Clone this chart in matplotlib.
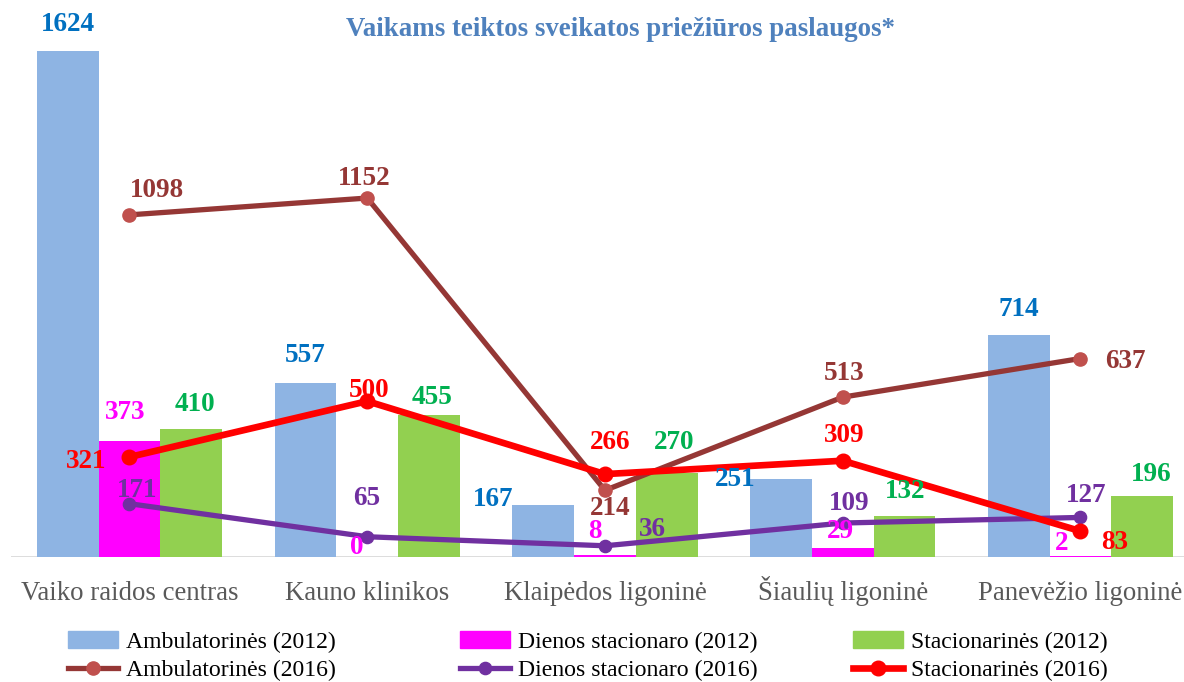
import matplotlib
matplotlib.use("Agg")
import matplotlib.pyplot as plt
from matplotlib.lines import Line2D
from matplotlib.patches import Patch
import numpy as np

# ---------------- data ----------------
categories = ["Vaiko raidos centras", "Kauno klinikos", "Klaipėdos ligoninė",
              "Šiaulių ligoninė", "Panevėžio ligoninė"]
amb_2012 = [1624, 557, 167, 251, 714]
dien_2012 = [373, 0, 8, 29, 2]
stac_2012 = [410, 455, 270, 132, 196]
amb_2016 = [1098, 1152, 214, 513, 637]
dien_2016 = [171, 65, 36, 109, 127]
stac_2016 = [321, 500, 266, 309, 83]
title = "Vaikams teiktos sveikatos priežiūros paslaugos*"
series_names = ["Ambulatorinės (2012)", "Dienos stacionaro (2012)", "Stacionarinės (2012)",
                "Ambulatorinės (2016)", "Dienos stacionaro (2016)", "Stacionarinės (2016)"]

# label offsets (pixels: right, up) -- layout only
off_amb12 = [(0, 26), (0, 28), (-50, 5), (-46, -1), (0, 25)]
off_dien12 = [(-4, 28), (-10, 10), (-10, 23), (-2, 16), (-19, 13)]
off_stac12 = [(4, 25), (3, 18), (7, 30), (1, 24), (9, 21)]
off_amb16 = [(27, 24), (-3, 20), (5, -18), (1, 24), (45, -3)]
off_dien16 = [(8, 13), (-1, 38), (47, 16), (6, 20), (6, 22)]
off_stac16 = [(-43, -5), (2, 11), (5, 32), (2, 25), (34, -11)]

plt.rcParams['font.family'] = ['Liberation Serif', 'DejaVu Serif']

W, H = 1184, 682
fig = plt.figure(figsize=(W / 100, H / 100), dpi=100)
ax_left = 10.6 / W
ax_w = 1188.75 / W
ax_bottom = (H - 557) / H
ax_h = 557 / H
ax = fig.add_axes([ax_left, ax_bottom, ax_w, ax_h])
ymax = 557 / 0.3116
ax.set_xlim(-0.5, 4.5)
ax.set_ylim(0, ymax)

x = np.arange(len(categories))
bw = 0.26
c_amb12, c_dien12, c_stac12 = "#8EB4E3", "#FF00FF", "#92D050"
c_amb16, c_amb16m, c_dien16, c_stac16 = "#953735", "#C0504D", "#7030A0", "#FF0000"

ax.bar(x - bw, amb_2012, bw, color=c_amb12, zorder=2)
ax.bar(x, dien_2012, bw, color=c_dien12, zorder=2)
ax.bar(x + bw, stac_2012, bw, color=c_stac12, zorder=2)

ax.plot(x, amb_2016, color=c_amb16, lw=3.8, marker='o', ms=9.5,
        mfc=c_amb16m, mec=c_amb16m, zorder=4)
ax.plot(x, dien_2016, color=c_dien16, lw=3.8, marker='o', ms=8.8,
        mfc=c_dien16, mec=c_dien16, zorder=4)
ax.plot(x, stac_2016, color=c_stac16, lw=4.8, marker='o', ms=10.5,
        mfc=c_stac16, mec=c_stac16, zorder=5)

ax.axhline(0, color="#D9D9D9", lw=2, zorder=1)

lab_fs = 19.5
def labels(xs, vals, offs, color):
    for xi, v, (dx, dy) in zip(xs, vals, offs):
        ax.annotate(str(v), xy=(xi, v), xytext=(dx, dy), textcoords='offset pixels',
                    ha='center', va='center', fontsize=lab_fs, fontweight='bold',
                    color=color, zorder=6, annotation_clip=False)

labels(x - bw, amb_2012, off_amb12, "#0070C0")
labels(x, dien_2012, off_dien12, "#FF00FF")
labels(x + bw, stac_2012, off_stac12, "#00B050")
labels(x, amb_2016, off_amb16, c_amb16)
labels(x, dien_2016, off_dien16, c_dien16)
labels(x, stac_2016, off_stac16, c_stac16)

for s in ax.spines.values():
    s.set_visible(False)
ax.set_yticks([])
ax.set_xticks(x)
ax.set_xticklabels(categories, fontsize=19.3, color="#595959", va='baseline')
ax.tick_params(axis='x', length=0, pad=31)

fig.text(621 / W, 1 - 30 / H, title, ha='center', va='center', fontsize=19.4,
         fontweight='bold', color="#4F81BD")

# legend: three columns, two rows each
leg_fs = 17.1
handles = [
    Patch(color=c_amb12), Patch(color=c_dien12), Patch(color=c_stac12),
    Line2D([], [], color=c_amb16, lw=3.8, marker='o', ms=9.5, mfc=c_amb16m, mec=c_amb16m),
    Line2D([], [], color=c_dien16, lw=3.8, marker='o', ms=8.8, mfc=c_dien16, mec=c_dien16),
    Line2D([], [], color=c_stac16, lw=4.8, marker='o', ms=10.5, mfc=c_stac16, mec=c_stac16),
]
col_x = [68, 460, 853]
for i in range(3):
    lg = fig.legend([handles[i], handles[i + 3]], [series_names[i], series_names[i + 3]],
                    loc='upper left', bbox_to_anchor=(col_x[i] / W, 1 - 631 / H),
                    frameon=False, fontsize=leg_fs, borderpad=0, borderaxespad=0,
                    handlelength=50 / (leg_fs * 100 / 72), handleheight=0.7,
                    handletextpad=0.35, labelspacing=0.3)

fig.savefig("out.png", dpi=100)
